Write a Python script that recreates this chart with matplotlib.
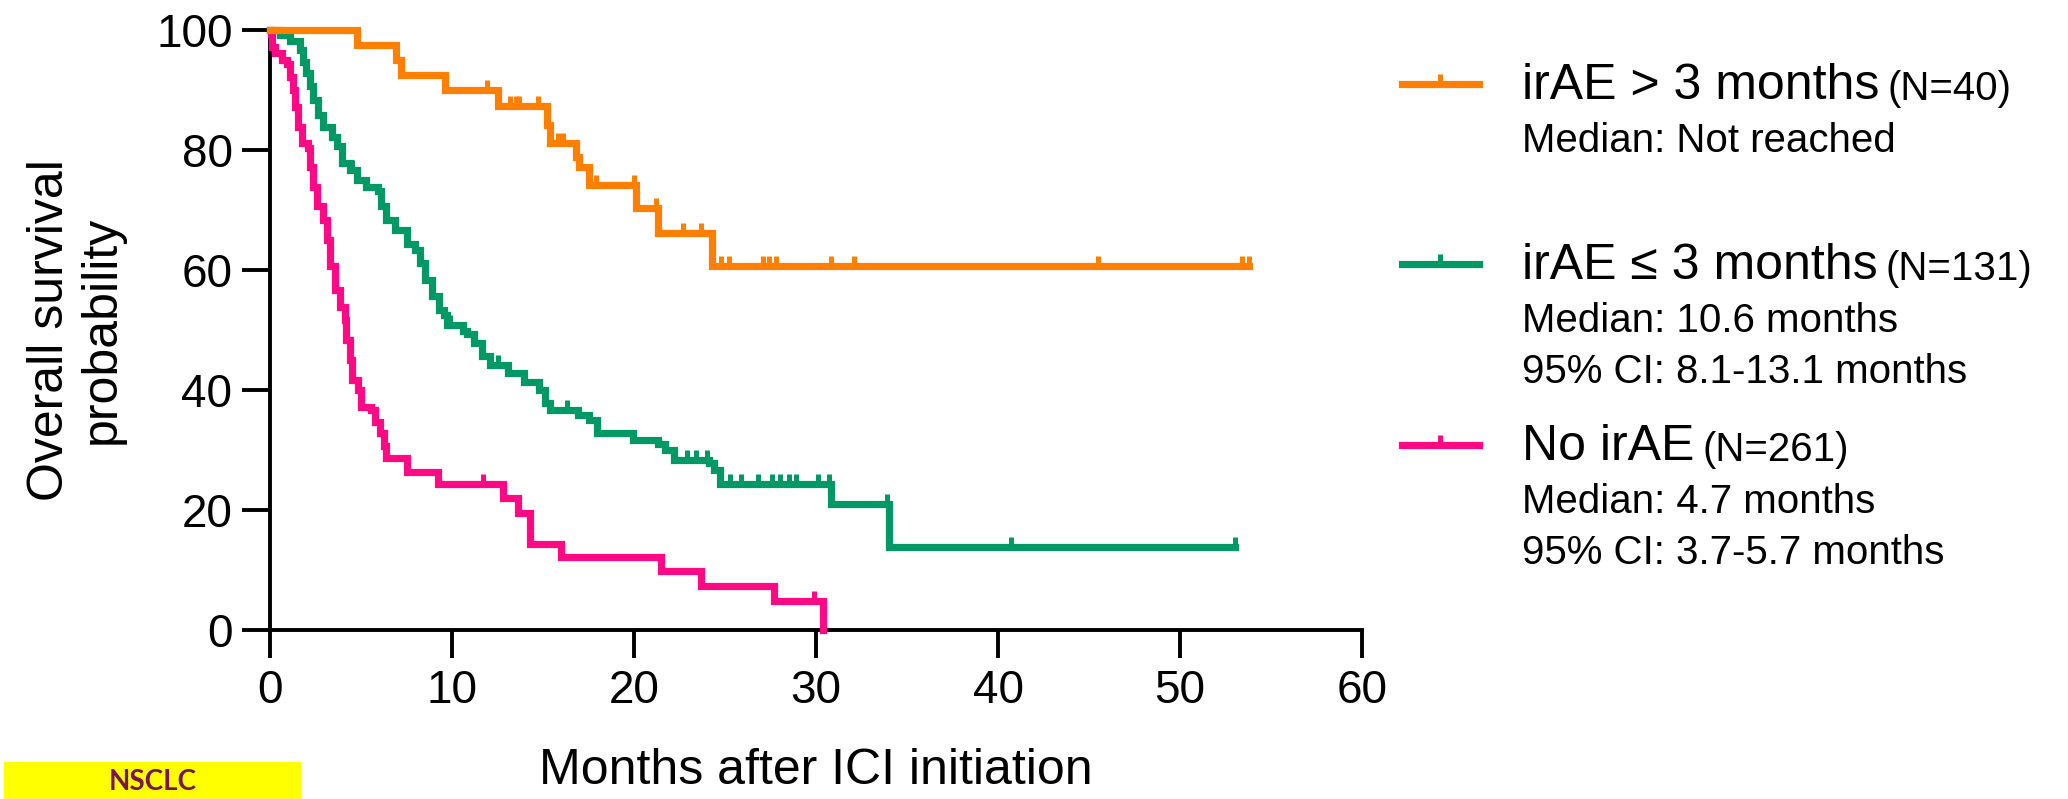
import numpy as np
import matplotlib
matplotlib.use('Agg')
import matplotlib.pyplot as plt
from matplotlib.path import Path
from matplotlib.lines import Line2D

plt.rcParams['font.family'] = ['Liberation Sans', 'DejaVu Sans']

# Kaplan-Meier steps (months, survival %)
orange_t = [0, 4.8, 6.9, 7.2, 9.6, 12.5, 15.2, 15.4, 16.8, 17.0, 17.5, 20.1, 21.3, 24.3, 53.8]
orange_s = [100, 97.5, 95.0, 92.5, 90.0, 87.4, 84.2, 81.1, 78.9, 77.2, 74.1, 70.3, 66.1, 60.6, 60.6]
orange_cens = [11.9, 13.2, 13.5, 13.7, 14.7, 15.8, 16.1, 17.9, 20.0, 21.2, 22.7, 23.7, 24.8, 25.2,
               27.1, 27.4, 27.8, 30.8, 32.1, 45.5, 53.4, 53.8]

green_t = [0, 0.55, 1.1, 1.65, 1.83, 2.0, 2.2, 2.38, 2.66, 2.93, 3.39, 3.66, 3.94, 4.4, 4.76,
           5.3, 5.95, 6.1, 6.4, 6.87, 7.5, 7.97, 8.24, 8.5, 8.9, 9.3, 9.55, 9.75, 10.6, 10.8,
           11.2, 11.65, 12.07, 13.1, 13.96, 14.8, 15.1, 15.4, 16.9, 17.5, 17.95, 19.95, 21.3,
           21.7, 22.2, 24.1, 24.4, 24.7, 30.8, 34.0, 53.0]
green_s = [100, 99.2, 98.1, 96.7, 94.7, 92.8, 90.6, 88.3, 85.8, 83.9, 82.2, 80.6, 77.8, 76.7, 75.0,
           73.9, 73.1, 70.6, 68.3, 66.7, 64.4, 63.3, 61.1, 58.3, 55.6, 53.3, 52.5, 50.8, 49.8, 49.4,
           47.8, 45.6, 44.2, 42.8, 41.4, 40.0, 37.8, 36.7, 35.8, 35.0, 32.8, 31.7, 31.0,
           30.0, 28.3, 27.8, 26.7, 24.4, 21.0, 13.9, 13.9]
green_cens = [4.5, 5.3, 9.9, 12.5, 16.3, 22.9, 23.4, 24.0, 25.3, 25.9, 26.8, 27.6, 28.0, 28.5,
              28.9, 30.1, 30.7, 33.9, 40.7, 53.0]

pink_t = [0, 0.05, 0.1, 0.27, 0.64, 0.92, 1.1, 1.28, 1.37, 1.56, 1.74, 2.1, 2.2, 2.38, 2.56,
          2.93, 3.11, 3.3, 3.57, 3.85, 4.12, 4.2, 4.39, 4.5, 4.81, 5.02, 5.55, 5.76, 6.07, 6.28,
          6.39, 7.55, 9.23, 12.8, 13.6, 14.3, 16.0, 21.5, 23.7, 27.7, 30.4]
pink_s = [100, 99.4, 97.2, 96.1, 95.0, 94.4, 92.2, 90.0, 87.2, 83.9, 81.1, 80.3, 77.2, 73.9, 70.6,
          68.3, 65.0, 60.6, 56.7, 53.9, 51.7, 48.3, 45.0, 41.7, 40.0, 37.2, 36.7, 34.7, 32.8, 30.6,
          28.6, 26.4, 24.4, 22.0, 19.5, 14.4, 12.2, 9.8, 7.3, 4.9, 0.0]
pink_cens = [11.7, 29.9]

x_ticks = [0, 10, 20, 30, 40, 50, 60]
y_ticks = [0, 20, 40, 60, 80, 100]

c_orange = '#FF8000'
c_green = '#009966'
c_pink = '#FF0A84'

W, H = 2068, 799
fig = plt.figure(figsize=(W / 100, H / 100), dpi=100)


def px(x, y):
    return x / W, 1 - y / H


ax = fig.add_axes([270 / W, 1 - 630 / H, 1092 / W, 600 / H])

tick_mark = Path([(0, 0), (0, 1)])
LW = 5.2


def km(t, s, cens, color):
    t = np.array(t)
    s = np.array(s)
    ax.plot(t, s, drawstyle='steps-post', color=color, lw=LW, clip_on=False,
            solid_joinstyle='miter', zorder=3)
    c = np.array(cens)
    idx = np.searchsorted(t, c, side='right') - 1
    ax.plot(c, s[idx], ls='none', marker=tick_mark, ms=14, mew=3.6, mec=color,
            clip_on=False, zorder=3)


km(green_t, green_s, green_cens, c_green)
km(pink_t, pink_s, pink_cens, c_pink)
km(orange_t, orange_s, orange_cens, c_orange)

ax.set_xlim(0, 60)
ax.set_ylim(0, 100)
ax.set_xticks(x_ticks)
ax.set_yticks(y_ticks)
for s in ['top', 'right']:
    ax.spines[s].set_visible(False)
for s in ['left', 'bottom']:
    ax.spines[s].set_linewidth(2.8)
ax.tick_params(axis='both', direction='out', length=20, width=2.8, labelsize=33)
ax.tick_params(axis='y', pad=7)
ax.tick_params(axis='x', pad=8)

ax.set_xlabel('Months after ICI initiation', fontsize=36, va='top')
ax.xaxis.set_label_coords(0.5, -0.197)
ax.set_ylabel('Overall survival\nprobability', fontsize=36, linespacing=1.15)
ax.yaxis.set_label_coords(-0.133, 0.5)

# legend drawn by hand
legend = [
    (c_orange, 'irAE > 3 months', '(N=40)', ['Median: Not reached'], 84),
    (c_green, 'irAE \u2264 3 months', '(N=131)',
     ['Median: 10.6 months', '95% CI: 8.1-13.1 months'], 264),
    (c_pink, 'No irAE', '(N=261)', ['Median: 4.7 months', '95% CI: 3.7-5.7 months'], 445),
]
for color, name, n, lines, y0 in legend:
    x0, y = px(1402, y0)
    x1, _ = px(1479, y0)
    fig.add_artist(Line2D([x0, x1], [y, y], color=color, lw=LW, transform=fig.transFigure))
    xm, _ = px(1440, y0)
    fig.add_artist(Line2D([xm], [y], ls='none', marker=tick_mark, ms=14, mew=3.6, mec=color,
                          transform=fig.transFigure))
    tx, ty = px(1522, y0 + 2)
    t = fig.text(tx, ty, name, fontsize=36, va='center', ha='left')
    ax.annotate(n, xy=(1, 0), xycoords=t, xytext=(6, 1), textcoords='offset points',
                fontsize=29, va='bottom', ha='left', annotation_clip=False)
    for i, line in enumerate(lines):
        lx, ly = px(1522, y0 + 57 + 51 * i)
        fig.text(lx, ly, line, fontsize=29, va='center', ha='left')

# NSCLC tag in the bottom-left corner
bx, by = px(4, 799)
fig.add_artist(plt.Rectangle((bx, by), 296 / W, 37 / H, color='#FFFF00',
                             transform=fig.transFigure, zorder=0))
nx, ny = px(153, 769)
fig.text(nx, ny, 'NSCLC', fontsize=20, fontweight='bold', family='Lato', color='#7A1452',
         ha='center', va='top')

fig.savefig('out.png', dpi=100)
